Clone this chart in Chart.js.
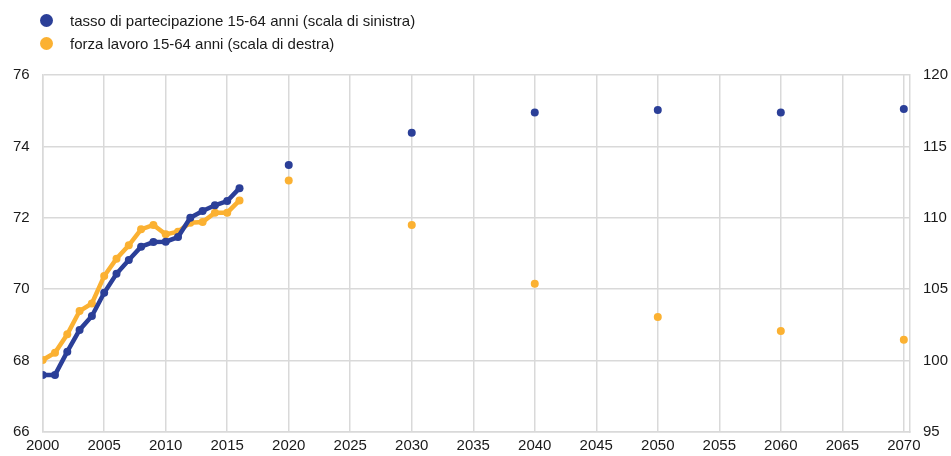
<!DOCTYPE html>
<html>
<head>
<meta charset="utf-8">
<script src="https://cdn.jsdelivr.net/npm/chart.js@4/dist/chart.umd.min.js"></script>
<style>
    body { margin: 0; background: #fff; font-family: "Liberation Sans", Arial, sans-serif; }
    #wrap { position: relative; width: 951px; height: 456px; }
    #legend { position: absolute; left: 40px; top: 11px; font-size: 15px; color: #1a1a1a; }
    #legend div { height: 23px; line-height: 20px; white-space: nowrap; }
    #legend span { display: inline-block; width: 13px; height: 13px; border-radius: 50%; vertical-align: -1px; margin-right: 17px; }
</style>
</head>
<body>
<div id="wrap">
    <canvas id="c" width="951" height="456"></canvas>
    <div id="legend"></div>
</div>
<script>
// Data

const years = [2000, 2001, 2002, 2003, 2004, 2005, 2006, 2007, 2008, 2009, 2010,
    2011, 2012, 2013, 2014, 2015, 2016, 2020, 2030, 2040, 2050, 2060, 2070];
const partecipazione = [67.6, 67.6, 68.25, 68.86, 69.25, 69.9, 70.43, 70.82, 71.19, 71.32, 71.33,
    71.46, 72.0, 72.19, 72.35, 72.47, 72.83, 73.48, 74.38, 74.95, 75.02, 74.95, 75.05];
const forzaLavoro = [100.04, 100.55, 101.84, 103.47, 104.0, 105.92, 107.14, 108.07, 109.19, 109.5, 108.84,
    109.03, 109.66, 109.7, 110.36, 110.36, 111.22, 112.62, 109.5, 105.39, 103.05, 102.07, 101.46];
const labels = [
    "tasso di partecipazione 15-64 anni (scala di sinistra)",
    "forza lavoro 15-64 anni (scala di destra)"
];
const xTicks = [2000, 2005, 2010, 2015, 2020, 2025, 2030, 2035, 2040, 2045, 2050, 2055, 2060, 2065, 2070];
const leftTicks = [66, 68, 70, 72, 74, 76];
const rightTicks = [95, 100, 105, 110, 115, 120];
const lastObserved = 2016;

const blue = "#2b3f98";
const orange = "#fbb132";
const grid = "#d9d9d9";
const text = "#1a1a1a";

function series(values) {
    return years.map((y, i) => ({x: y, y: values[i]}));
}

function makeDataset(label, values, color, axis) {
    return {
        label: label,
        data: series(values),
        yAxisID: axis,
        borderColor: color,
        backgroundColor: color,
        borderWidth: 4.5,
        pointRadius: 4,
        pointBorderWidth: 0,
        pointHoverRadius: 4,
        tension: 0,
        segment: {
            // projections are plotted as single dots, no joining line
            borderColor: ctx => ctx.p1.parsed.x > lastObserved ? "transparent" : color
        }
    };
}

// html legend, two stacked rows
const legend = document.querySelector("#legend");
[[labels[0], blue], [labels[1], orange]].forEach(([t, c]) => {
    const row = document.createElement("div");
    row.innerHTML = '<span style="background:' + c + '"></span>' + t;
    legend.appendChild(row);
});

function fixedTicks(list) {
    return scale => { scale.ticks = list.map(v => ({value: v})); };
}

const chart = new Chart(
    document.querySelector("#c").getContext("2d"),
    {
        type: "line",
        data: {
            datasets: [
                makeDataset(labels[0], partecipazione, blue, "left"),
                makeDataset(labels[1], forzaLavoro, orange, "right")
            ]
        },
        options: {
            responsive: false,
            animation: false,
            layout: {
                padding: {left: 0, right: -10, top: 75, bottom: -3}
            },
            plugins: {
                legend: {display: false},
                tooltip: {enabled: false}
            },
            scales: {
                x: {
                    type: "linear",
                    min: 2000,
                    max: 2070.5,
                    afterBuildTicks: fixedTicks(xTicks),
                    ticks: {
                        autoSkip: false,
                        maxRotation: 0,
                        padding: 6,
                        color: text,
                        font: {family: "Liberation Sans", size: 15, lineHeight: 1},
                        callback: v => String(v)
                    },
                    grid: {color: grid, lineWidth: 1.5, drawTicks: false},
                    border: {display: true, color: grid, width: 1.5}
                },
                left: {
                    type: "linear",
                    position: "left",
                    min: 66,
                    max: 76,
                    afterBuildTicks: fixedTicks(leftTicks),
                    ticks: {
                        padding: 13,
                        color: text,
                        font: {family: "Liberation Sans", size: 15}
                    },
                    grid: {color: grid, lineWidth: 1.5, drawTicks: false},
                    border: {display: true, color: grid, width: 1.5}
                },
                right: {
                    type: "linear",
                    position: "right",
                    min: 95,
                    max: 120,
                    afterBuildTicks: fixedTicks(rightTicks),
                    ticks: {
                        padding: 13,
                        color: text,
                        font: {family: "Liberation Sans", size: 15}
                    },
                    grid: {display: false, drawTicks: false},
                    border: {display: true, color: grid, width: 1.5}
                }
            }
        }
    }
)
</script>
</body>
</html>
